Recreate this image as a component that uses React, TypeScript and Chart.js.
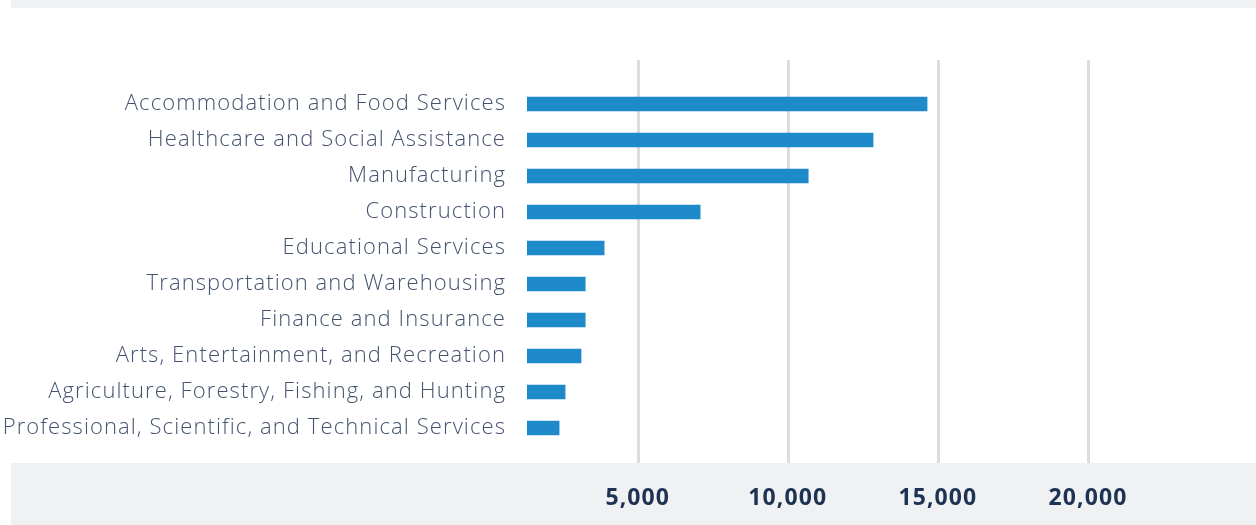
import React, { useEffect, useRef } from "react";
import { Chart, registerables } from "chart.js";

Chart.register(...registerables);

const categories = [
  "Accommodation and Food Services",
  "Healthcare and Social Assistance",
  "Manufacturing",
  "Construction",
  "Educational Services",
  "Transportation and Warehousing",
  "Finance and Insurance",
  "Arts, Entertainment, and Recreation",
  "Agriculture, Forestry, Fishing, and Hunting",
  "Professional, Scientific, and Technical Services",
];

const values = [14640, 12840, 10680, 7080, 3880, 3250, 3250, 3110, 2580, 2380];

const xTicks = [5000, 10000, 15000, 20000];

const BAND = "#f0f1f3";

const bandsAndGrid = {
  id: "bandsAndGrid",
  beforeDraw(chart: any) {
    const { ctx, width, height } = chart;
    ctx.letterSpacing = "1.1px";
    ctx.save();
    ctx.fillStyle = BAND;
    ctx.fillRect(11, 0, width - 11, 8);
    ctx.fillRect(11, 463, width - 11, height - 463);
    ctx.restore();
  },
  beforeDatasetsDraw(chart: any) {
    const { ctx } = chart;
    const xs = chart.scales.x;
    ctx.save();
    ctx.strokeStyle = "#dddddd";
    ctx.lineWidth = 3;
    xTicks.forEach((v) => {
      const px = Math.round(xs.getPixelForValue(v)) + 0.5;
      ctx.beginPath();
      ctx.moveTo(px, 60);
      ctx.lineTo(px, 463);
      ctx.stroke();
    });
    ctx.restore();
  },
};

export default function App() {
  const ref = useRef<HTMLCanvasElement | null>(null);
  useEffect(() => {
    if (!ref.current) return;
    const chart = new Chart(ref.current, {
      type: "bar",
      data: {
        labels: categories,
        datasets: [
          {
            data: values,
            backgroundColor: "#1f8aca",
            barThickness: 14,
          },
        ],
      },
      plugins: [bandsAndGrid],
      options: {
        indexAxis: "y",
        animation: false,
        responsive: true,
        maintainAspectRatio: false,
        layout: { padding: { top: 86, bottom: 0, left: 0, right: 18 } },
        plugins: { legend: { display: false }, tooltip: { enabled: false } },
        scales: {
          x: {
            min: 1310,
            max: 25000,
            grid: { display: false, drawTicks: false },
            border: { display: false },
            afterBuildTicks: (scale: any) => {
              scale.ticks = xTicks.map((v) => ({ value: v }));
            },
            afterFit: (scale: any) => {
              scale.height = 79;
            },
            ticks: {
              padding: 39,
              color: "#1e3354",
              font: { family: "'Open Sans', sans-serif", size: 23, weight: "bold" },
              callback: (v: any) => Number(v).toLocaleString("en-US"),
              maxRotation: 0,
              autoSkip: false,
            },
          },
          y: {
            grid: { display: false, drawTicks: false },
            border: { display: false },
            afterFit: (scale: any) => {
              scale.width = 527;
            },
            ticks: {
              padding: 21,
              color: "#44536f",
              font: { family: "'Open Sans', sans-serif", size: 22, weight: 300 },
              autoSkip: false,
            },
          },
        },
      },
    } as any);
    return () => chart.destroy();
  }, []);
  return (
    <div style={{ position: "fixed", left: 0, top: 0, width: 1256, height: 525, background: "#fff" }}>
      <canvas ref={ref} />
    </div>
  );
}
